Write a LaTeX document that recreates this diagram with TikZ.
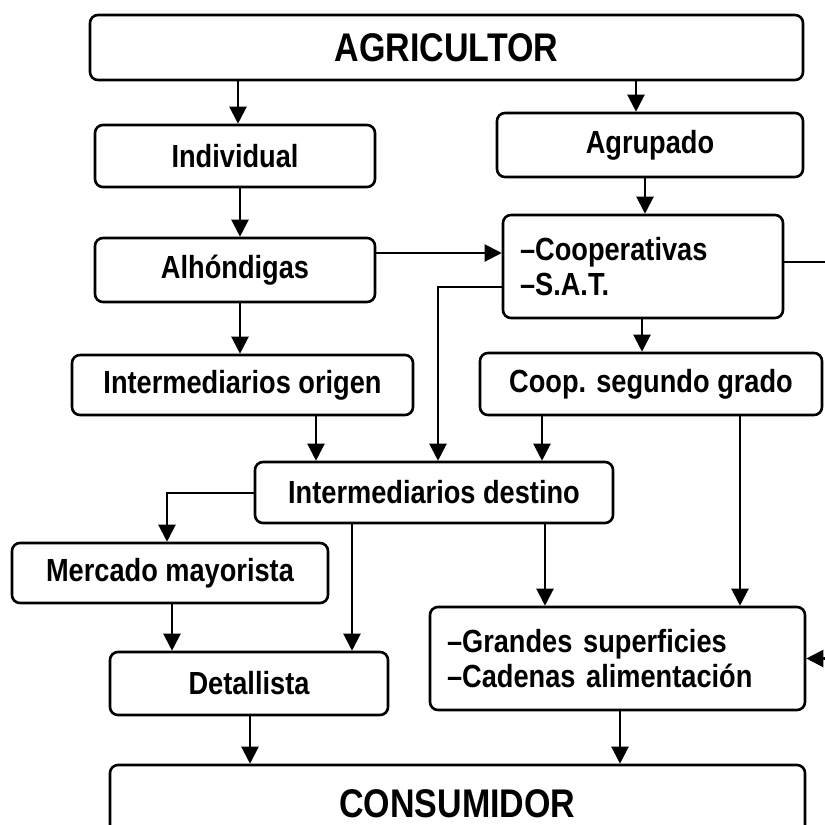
\documentclass[tikz,border=0pt]{standalone}
\usepackage{fontspec}
\setmainfont{Liberation Sans}
\newfontfamily\tallfont[FakeStretch=0.85]{Liberation Sans}
\usetikzlibrary{arrows.meta}
\tikzset{
  box/.style={draw, line width=2.6pt, rounded corners=8pt, inner sep=0pt,
    font=\tallfont\bfseries\fontsize{32}{35}\selectfont},
  bigbox/.style={box, font=\tallfont\bfseries\fontsize{40}{44}\selectfont},
  listbox/.style={box, align=left, inner xsep=17pt},
  arr/.style={line width=2.2pt, -{Triangle[length=17pt,width=17pt]}},
  conn/.style={line width=2.2pt}
}
\begin{document}
\begin{tikzpicture}[x=1pt,y=-1pt]
\useasboundingbox (0,0) rectangle (825,825);
\clip (0,0) rectangle (825,825);
% boxes
\node[bigbox, minimum width=713pt, minimum height=65pt] (agr) at (446.5,47.5) {AGRICULTOR};
\node[box, minimum width=280pt, minimum height=62pt] (ind) at (235,156) {Individual};
\node[box, minimum width=306pt, minimum height=64pt] (agru) at (650,145) {Agrupado};
\node[box, minimum width=280pt, minimum height=64pt] (alh) at (235,270) {Alhóndigas};
\node[listbox, text width=246pt, minimum height=103pt] (coop) at (643,266.5) {–Cooperativas\\–S.A.T.};
\node[box, minimum width=341pt, minimum height=60pt] (orig) at (242.5,385) {Intermediarios origen};
\node[box, minimum width=342pt, minimum height=62pt] (seg) at (651,384) {Coop. segundo grado};
\node[box, minimum width=358pt, minimum height=61pt] (dest) at (434,492.5) {Intermediarios destino};
\node[box, minimum width=316pt, minimum height=60pt] (merc) at (170,573) {Mercado mayorista};
\node[box, minimum width=278pt, minimum height=63pt] (det) at (249,683.5) {Detallista};
\node[listbox, text width=341pt, minimum height=103pt] (gran) at (617.5,658.5) {–Grandes superficies\\–Cadenas alimentación};
\node[bigbox, minimum width=695pt, minimum height=78pt] (cons) at (457.5,804) {CONSUMIDOR};
% guide coordinates
\coordinate (xa) at (238,0);
\coordinate (xb) at (636,0);
\coordinate (xc) at (645,0);
\coordinate (xd) at (240,0);
\coordinate (xe) at (642,0);
\coordinate (xf) at (316,0);
\coordinate (xg) at (438,0);
\coordinate (xh) at (542,0);
\coordinate (xi) at (740,0);
\coordinate (xj) at (545,0);
\coordinate (xk) at (352,0);
\coordinate (xl) at (167,0);
\coordinate (xm) at (172,0);
\coordinate (xn) at (250,0);
\coordinate (xo) at (620,0);
\coordinate (xr) at (845,0);
\coordinate (ya) at (0,253);
\coordinate (yb) at (0,287);
\coordinate (yc) at (0,262);
\coordinate (yd) at (0,493);
% connectors
\draw[arr] (agr.south -| xa) -- (ind.north -| xa);
\draw[arr] (agr.south -| xb) -- (agru.north -| xb);
\draw[arr] (agru.south -| xc) -- (coop.north -| xc);
\draw[arr] (ind.south -| xd) -- (alh.north -| xd);
\draw[arr] (alh.east |- ya) -- (coop.west |- ya);
\draw[arr] (alh.south -| xd) -- (orig.north -| xd);
\draw[arr] (coop.south -| xe) -- (seg.north -| xe);
\draw[arr] (coop.west |- yb) -- (xg |- yb) -- (dest.north -| xg);
\draw[arr] (coop.east |- yc) -- (xr |- yc) -- (xr |- gran.east) -- (gran.east);
\draw[arr] (orig.south -| xf) -- (dest.north -| xf);
\draw[arr] (seg.south -| xh) -- (dest.north -| xh);
\draw[arr] (seg.south -| xi) -- (gran.north -| xi);
\draw[arr] (dest.south -| xj) -- (gran.north -| xj);
\draw[arr] (dest.south -| xk) -- (det.north -| xk);
\draw[arr] (dest.west |- yd) -- (xl |- yd) -- (merc.north -| xl);
\draw[arr] (merc.south -| xm) -- (det.north -| xm);
\draw[arr] (det.south -| xn) -- (cons.north -| xn);
\draw[arr] (gran.south -| xo) -- (cons.north -| xo);
\end{tikzpicture}
\end{document}
